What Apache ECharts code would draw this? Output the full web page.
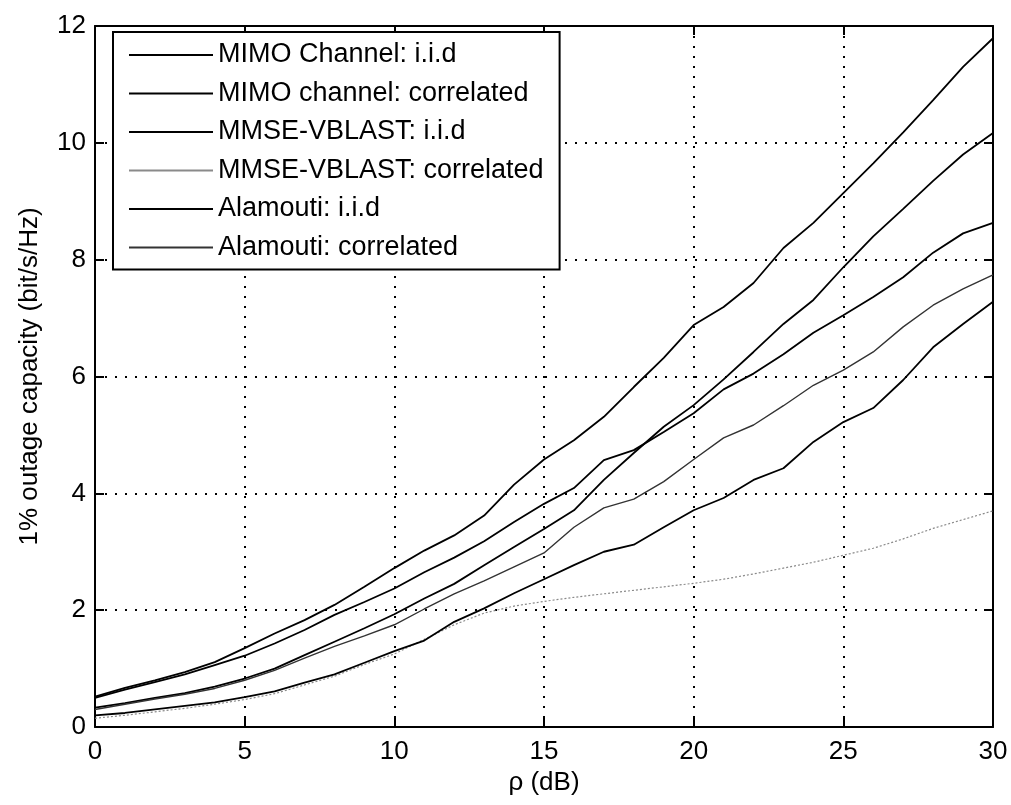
<!DOCTYPE html>
<html>
<head>
<meta charset="utf-8">
<script src="https://cdn.jsdelivr.net/npm/echarts@6/dist/echarts.min.js"></script>
<style>
  html, body { margin: 0; padding: 0; background: #fff; }
  #chart { width: 1011px; height: 805px; }
</style>
</head>
<body>
<div id="chart"></div>
<script>
// x values (rho, dB)
const snr = [0,1,2,3,4,5,6,7,8,9,10,11,12,13,14,15,16,17,18,19,20,21,22,23,24,25,26,27,28,29,30];

const seriesNames = [
  'MIMO Channel: i.i.d',
  'MIMO channel: correlated',
  'MMSE-VBLAST: i.i.d',
  'MMSE-VBLAST: correlated',
  'Alamouti: i.i.d',
  'Alamouti: correlated'
];

const mimoIid = [0.52,0.67,0.80,0.94,1.11,1.35,1.60,1.83,2.09,2.40,2.72,3.02,3.28,3.62,4.15,4.58,4.91,5.31,5.82,6.32,6.88,7.19,7.60,8.20,8.63,9.14,9.65,10.18,10.73,11.30,11.79];
const mimoCorr = [0.33,0.41,0.50,0.58,0.69,0.83,1.00,1.23,1.46,1.69,1.93,2.20,2.45,2.77,3.08,3.39,3.71,4.23,4.69,5.14,5.51,5.95,6.42,6.90,7.31,7.87,8.40,8.87,9.35,9.80,10.17];
const vblastIid = [0.50,0.64,0.77,0.90,1.06,1.22,1.43,1.66,1.92,2.14,2.37,2.65,2.90,3.18,3.51,3.82,4.09,4.57,4.74,5.05,5.37,5.78,6.05,6.38,6.75,7.05,7.36,7.70,8.12,8.45,8.63];
const vblastCorr = [0.15,0.20,0.26,0.32,0.39,0.47,0.57,0.72,0.87,1.07,1.25,1.50,1.75,1.95,2.07,2.15,2.22,2.28,2.34,2.40,2.46,2.53,2.62,2.72,2.82,2.94,3.06,3.22,3.40,3.55,3.70];
const alamIid = [0.20,0.24,0.30,0.36,0.42,0.51,0.61,0.76,0.90,1.10,1.30,1.48,1.80,2.03,2.29,2.53,2.77,3.00,3.12,3.42,3.71,3.92,4.23,4.43,4.88,5.22,5.46,5.94,6.50,6.90,7.28];
const alamCorr = [0.30,0.39,0.48,0.56,0.66,0.80,0.97,1.18,1.38,1.56,1.75,2.02,2.28,2.50,2.74,2.98,3.42,3.75,3.90,4.20,4.58,4.95,5.17,5.50,5.85,6.11,6.42,6.85,7.22,7.50,7.74];

const xTicks = { min: 0, max: 30, interval: 5 };
const yTicks = { min: 0, max: 12, interval: 2 };

const allValues = [mimoIid, mimoCorr, vblastIid, vblastCorr, alamIid, alamCorr];
const styles = [
  { color: '#000', width: 1.8, type: 'solid' },
  { color: '#000', width: 1.8, type: 'solid' },
  { color: '#000', width: 1.8, type: 'solid' },
  { color: '#8a8a8a', width: 1.2, type: [2, 2] },
  { color: '#000', width: 1.8, type: 'solid' },
  { color: '#333', width: 1.4, type: 'solid' }
];

const FONT = '"Liberation Sans", Arial, Helvetica, sans-serif';

const series = seriesNames.map((name, i) => ({
  name: name,
  type: 'line',
  xAxisIndex: 0,
  yAxisIndex: 0,
  showSymbol: false,
  symbol: 'none',
  smooth: false,
  data: snr.map((x, k) => [x, allValues[i][k]]),
  lineStyle: { color: styles[i].color, width: styles[i].width, type: styles[i].type },
  itemStyle: { color: styles[i].color },
  z: 5
}));

const gridStyle = { show: true, lineStyle: { color: '#000', width: 2, type: [2, 8] } };

const option = {
  animation: false,
  backgroundColor: '#fff',
  grid: { left: 95, right: 18, top: 26, bottom: 78, containLabel: false },
  legend: {
    orient: 'vertical',
    left: 113,
    top: 32,
    padding: [8, 16, 7, 16],
    itemGap: 8.5,
    itemWidth: 84,
    itemHeight: 2,
    icon: 'rect',
    backgroundColor: '#fff',
    borderColor: '#000',
    borderWidth: 2,
    borderRadius: 0,
    textStyle: { fontFamily: FONT, fontSize: 27, color: '#000', lineHeight: 30 },
    data: seriesNames,
    z: 10
  },
  xAxis: [
    {
      type: 'value', position: 'bottom',
      min: xTicks.min, max: xTicks.max, interval: xTicks.interval,
      name: 'ρ (dB)', nameLocation: 'middle', nameGap: 42,
      nameTextStyle: { fontFamily: FONT, fontSize: 26, color: '#000' },
      axisLine: { show: true, onZero: false, lineStyle: { color: '#000', width: 2 } },
      axisTick: { show: true, inside: true, length: 9, lineStyle: { color: '#000', width: 2 } },
      axisLabel: { fontFamily: FONT, fontSize: 26, color: '#000', margin: 12 },
      splitLine: gridStyle
    },
    {
      type: 'value', position: 'top',
      min: xTicks.min, max: xTicks.max, interval: xTicks.interval,
      axisLine: { show: true, onZero: false, lineStyle: { color: '#000', width: 2 } },
      axisTick: { show: true, inside: true, length: 9, lineStyle: { color: '#000', width: 2 } },
      axisLabel: { show: false },
      splitLine: { show: false }
    }
  ],
  yAxis: [
    {
      type: 'value', position: 'left',
      min: yTicks.min, max: yTicks.max, interval: yTicks.interval,
      name: '1% outage capacity (bit/s/Hz)', nameLocation: 'middle', nameGap: 52, nameRotate: 90,
      nameTextStyle: { fontFamily: FONT, fontSize: 26, color: '#000' },
      axisLine: { show: true, onZero: false, lineStyle: { color: '#000', width: 2 } },
      axisTick: { show: true, inside: true, length: 9, lineStyle: { color: '#000', width: 2 } },
      axisLabel: { fontFamily: FONT, fontSize: 26, color: '#000', margin: 9 },
      splitLine: gridStyle
    },
    {
      type: 'value', position: 'right',
      min: yTicks.min, max: yTicks.max, interval: yTicks.interval,
      axisLine: { show: true, onZero: false, lineStyle: { color: '#000', width: 2 } },
      axisTick: { show: true, inside: true, length: 9, lineStyle: { color: '#000', width: 2 } },
      axisLabel: { show: false },
      splitLine: { show: false }
    }
  ],
  series: series
};

const chart = echarts.init(document.getElementById('chart'), null, { renderer: 'canvas' });
chart.setOption(option);
</script>
</body>
</html>
